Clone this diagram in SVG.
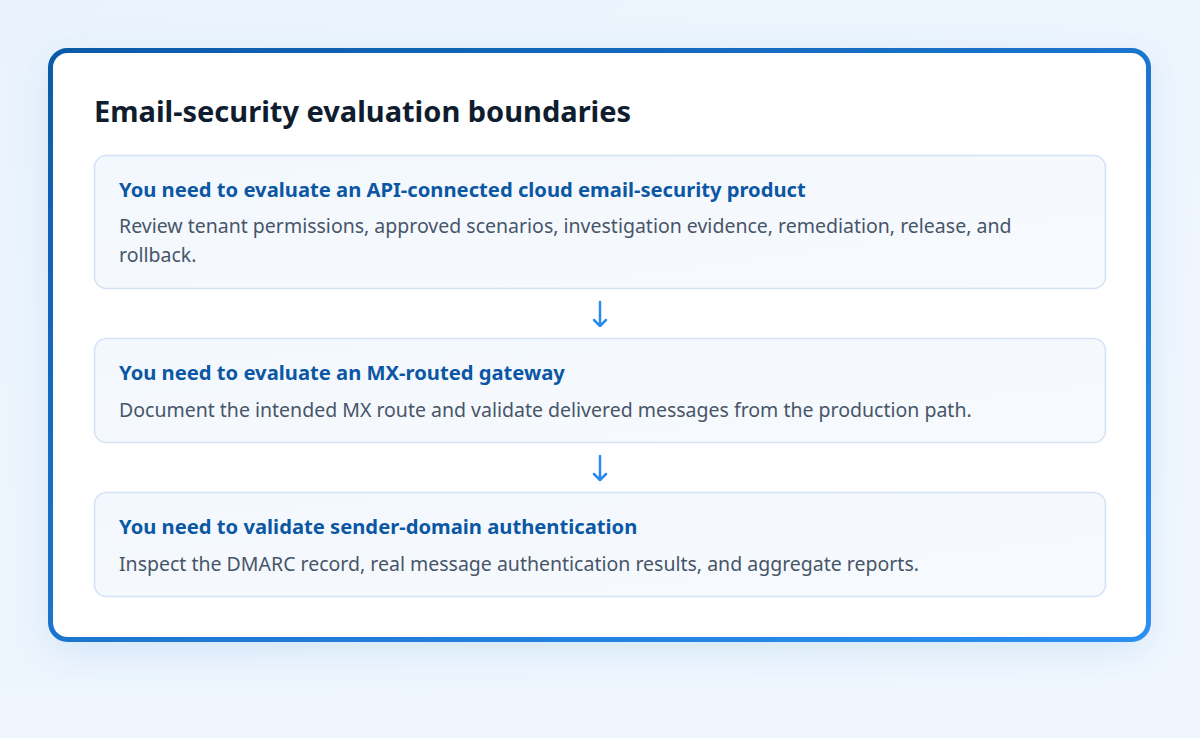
<svg xmlns="http://www.w3.org/2000/svg" width="1200" height="738" viewBox="0 0 1200 738">
  <defs>
    <linearGradient id="bg" x1="0" y1="0" x2="1" y2="1">
      <stop offset="0" stop-color="#eaf3fc"/>
      <stop offset="1" stop-color="#f1f7fe"/>
    </linearGradient>
    <linearGradient id="frameStroke" x1="0" y1="0" x2="1" y2="1">
      <stop offset="0" stop-color="#0a5aa9"/>
      <stop offset="1" stop-color="#2b90f2"/>
    </linearGradient>
    <linearGradient id="cardFill" x1="0" y1="0" x2="1" y2="1">
      <stop offset="0" stop-color="#f3f8fe"/>
      <stop offset="1" stop-color="#f7fafe"/>
    </linearGradient>
    <filter id="glow" x="-10%" y="-15%" width="120%" height="130%">
      <feDropShadow dx="0" dy="10" stdDeviation="18" flood-color="#5a9fe6" flood-opacity="0.2"/>
    </filter>
  </defs>
  <style>
    .title { font-family: "Noto Sans", "Liberation Sans", sans-serif; font-weight: 700; font-size: 29px; fill: #0f1d2e; }
    .card { fill: url(#cardFill); stroke: #d3e3f5; stroke-width: 1.5; }
    .head { font-family: "Noto Sans", "Liberation Sans", sans-serif; font-weight: 700; font-size: 20.2px; fill: #0b57a4; }
    .body { font-family: "Noto Sans", "Liberation Sans", sans-serif; font-weight: 400; font-size: 19.5px; fill: #475569; }
    .conn { stroke: #2a8aea; stroke-width: 2.5; fill: none; stroke-linecap: round; stroke-linejoin: round; }
  </style>
  <rect x="0" y="0" width="1200" height="738" fill="url(#bg)"/>
  <rect x="0" y="690" width="1200" height="48" fill="#eff6fe"/>

  <g id="frame">
    <rect x="50.5" y="50.5" width="1098" height="589" rx="17" fill="#ffffff" filter="url(#glow)"/>
    <rect x="50.5" y="50.5" width="1098" height="589" rx="17" fill="none" stroke="url(#frameStroke)" stroke-width="5"/>
    <text class="title" x="94" y="122">Email-security evaluation boundaries</text>
  </g>

  <g id="node-api">
    <rect class="card" x="94.5" y="155.5" width="1011" height="133" rx="12"/>
    <text class="head" x="119" y="197">You need to evaluate an API-connected cloud email-security product</text>
    <text class="body" x="119" y="233">Review tenant permissions, approved scenarios, investigation evidence, remediation, release, and</text>
    <text class="body" x="119" y="262">rollback.</text>
  </g>

  <g id="node-mx">
    <rect class="card" x="94.5" y="338.5" width="1011" height="104" rx="12"/>
    <text class="head" x="119" y="380">You need to evaluate an MX-routed gateway</text>
    <text class="body" x="119" y="417">Document the intended MX route and validate delivered messages from the production path.</text>
  </g>

  <g id="node-dmarc">
    <rect class="card" x="94.5" y="492.5" width="1011" height="104" rx="12"/>
    <text class="head" x="119" y="534">You need to validate sender-domain authentication</text>
    <text class="body" x="119" y="571">Inspect the DMARC record, real message authentication results, and aggregate reports.</text>
  </g>

  <g id="connectors">
    <path class="conn" d="M600 302 V326 M594 320 L600 326 L606 320"/>
    <path class="conn" d="M600 456 V480 M594 474 L600 480 L606 474"/>
  </g>
</svg>
